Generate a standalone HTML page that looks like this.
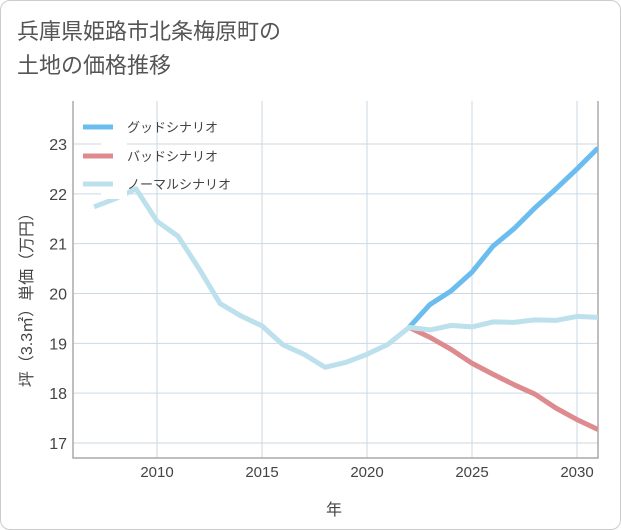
<!DOCTYPE html>
<html><head><meta charset="utf-8"><style>
body{margin:0;background:#fff;}
#card{position:absolute;left:0;top:0;width:619px;height:528px;border:1px solid #ccc;border-radius:10px;background:#fff;overflow:hidden;font-family:"Liberation Sans","Noto Sans CJK JP",sans-serif;}
#title{position:absolute;left:16px;top:14px;font-size:22px;line-height:34px;color:#555;}
</style></head><body>
<div id="card">
<div id="title">兵庫県姫路市北条梅原町の<br>土地の価格推移</div>
<svg id="chart" width="621" height="530" style="position:absolute;left:0;top:0"></svg>
</div>
<script>
const years=[2007,2008,2009,2010,2011,2012,2013,2014,2015,2016,2017,2018,2019,2020,2021,2022,2023,2024,2025,2026,2027,2028,2029,2030,2031];
const normal=[21.74,21.9,22.1,21.45,21.15,20.5,19.8,19.55,19.35,18.97,18.78,18.52,18.62,18.78,18.98,19.32,19.27,19.36,19.33,19.43,19.42,19.47,19.46,19.54,19.52];
const goodYears=[2022,2023,2024,2025,2026,2027,2028,2029,2030,2031];
const good=[19.32,19.78,20.05,20.43,20.95,21.3,21.72,22.1,22.5,22.92];
const bad=[19.32,19.12,18.88,18.6,18.38,18.17,17.98,17.7,17.47,17.27];
const xTicks=[2010,2015,2020,2025,2030];
const yTicks=[17,18,19,20,21,22,23];
const NS="http://www.w3.org/2000/svg";
const svg=document.getElementById('chart');
const L=72,R=597,T=100,B=457;
const x=v=>156+(v-2010)*21;
const y=v=>442-(v-17)*49.83;
function mk(t,a){const e=document.createElementNS(NS,t);for(const k in a)e.setAttribute(k,a[k]);svg.appendChild(e);return e;}
const clip=mk('clipPath',{id:'pc'});const cr=document.createElementNS(NS,'rect');cr.setAttribute('x',L);cr.setAttribute('y',T);cr.setAttribute('width',R-L);cr.setAttribute('height',B-T);clip.appendChild(cr);
xTicks.forEach(v=>{const g=mk('line',{x1:x(v),x2:x(v),y1:T,y2:B,stroke:'#c9d9e6','stroke-width':1});

const t=mk('text',{x:x(v),y:476,'text-anchor':'middle','font-size':15,fill:'#444'});t.textContent=v;
});
yTicks.forEach(v=>{const g=mk('line',{x1:L,x2:R,y1:y(v),y2:y(v),stroke:'#c9d9e6','stroke-width':1});

const t=mk('text',{x:66,y:y(v)+6,'text-anchor':'end','font-size':16,fill:'#444'});t.textContent=v;
});
const ax=mk('path',{d:`M${L},${T}V${B}H${R}V${T}`,fill:'none',stroke:'#aaa','stroke-width':1.5});

function line(xs,ys,c,name){const d=ys.map((v,i)=>(i?'L':'M')+x(xs[i])+','+y(v)).join('');
const p=mk('path',{d:d,fill:'none',stroke:c,'stroke-width':5,'stroke-linejoin':'round','clip-path':'url(#pc)'});
}
line(goodYears,bad,'#de8b90','bad-scenario-line');
line(goodYears,good,'#6bbdf0','good-scenario-line');
line(years,normal,'#bde0ed','normal-scenario-line');
const lg=mk('rect',{x:100,y:110,width:26,height:88,fill:'#fff'});

[['グッドシナリオ','#6bbdf0',126],['バッドシナリオ','#de8b90',155],['ノーマルシナリオ','#bde0ed',183]].forEach(([n,c,yy])=>{
const l=mk('line',{x1:82,x2:112,y1:yy,y2:yy,stroke:c,'stroke-width':5});

const t=mk('text',{x:126,y:yy+5,'font-size':13,fill:'#444'});t.textContent=n;
});
const xt=mk('text',{x:333,y:514,'text-anchor':'middle','font-size':16,fill:'#444'});xt.textContent='年';

const yt=mk('text',{x:0,y:0,'text-anchor':'middle','font-size':16,fill:'#444',transform:'translate(31,295) rotate(-90)'});yt.textContent='坪（3.3㎡）単価（万円）';

</script>
</body></html>
